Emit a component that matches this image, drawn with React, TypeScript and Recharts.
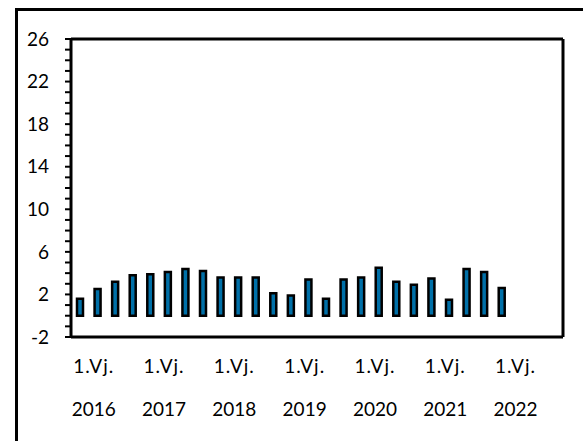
import React from "react";
import { BarChart, Bar, XAxis, YAxis, ReferenceLine } from "recharts";

// quarters 2016 Q1 .. 2022 Q4, only the first 25 have values
const years = [2016, 2017, 2018, 2019, 2020, 2021, 2022];
const quarters = years.flatMap((y) => [1, 2, 3, 4].map((q) => `${q}.Vj. ${y}`));

const values = [
  1.6, 2.5, 3.2, 3.8,
  3.9, 4.1, 4.4, 4.2,
  3.6, 3.6, 3.6, 2.1,
  1.9, 3.4, 1.6, 3.4,
  3.6, 4.5, 3.2, 2.9,
  3.5, 1.5, 4.4, 4.1,
  2.6, null, null, null,
];

const yTicks = [-2, -1, 0, 1, 2, 3, 4, 5, 6, 7, 8, 9, 10, 11, 12, 13, 14, 15, 16, 17, 18, 19, 20, 21, 22, 23, 24, 25, 26];
const yLabels = [-2, 2, 6, 10, 14, 18, 22, 26];

const data = quarters.map((q, i) => ({ name: q, value: values[i] }));

const FONT = "Lato, 'Open Sans', sans-serif";

const YTick = (props: any) => {
  const { x, y, payload } = props;
  if (!yLabels.includes(payload.value)) return <g />;
  return (
    <text x={x} y={y} dy="0.35em" textAnchor="end" fontSize={19} fontFamily={FONT} fill="#000">
      {payload.value}
    </text>
  );
};

const XTick = (props: any) => {
  const { x, y, payload } = props;
  const v: string = payload.value;
  if (!v.startsWith("1.Vj.")) return <g />;
  const [q, yr] = v.split(" ");
  return (
    <g>
      <text x={x + 14} y={y} dy={36} textAnchor="middle" fontSize={19} fontFamily={FONT} letterSpacing={1} fill="#000">
        {q}
      </text>
      <text x={x + 14} y={y} dy={79} textAnchor="middle" fontSize={19} fontFamily={FONT} fill="#000">
        {yr}
      </text>
    </g>
  );
};

export default function App() {
  return (
    <div style={{ position: "fixed", left: 0, top: 0, width: 583, height: 441, overflow: "hidden", background: "#fff" }}>
      <div
        style={{
          position: "absolute",
          left: 15,
          top: 8,
          width: 700,
          height: 700,
          border: "3px solid #000",
        }}
      />
      <div style={{ position: "absolute", left: 0, top: 0 }}>
        <BarChart
          width={583}
          height={441}
          data={data}
          margin={{ top: 39, right: 0, bottom: 0, left: 0 }}
          barSize={6}
        >
          <XAxis
            dataKey="name"
            interval={0}
            height={104}
            tickLine={false}
            tickSize={0}
            tickMargin={0}
            axisLine={{ stroke: "#000", strokeWidth: 3 }}
            tick={<XTick />}
          />
          <YAxis
            yAxisId="left"
            type="number"
            domain={[-2, 26]}
            ticks={yTicks}
            interval={0}
            width={71}
            tickSize={6}
            tickMargin={16}
            tickLine={{ stroke: "#000", strokeWidth: 2 }}
            axisLine={{ stroke: "#000", strokeWidth: 3 }}
            tick={<YTick />}
          />
          <YAxis
            yAxisId="right"
            orientation="right"
            type="number"
            domain={[-2, 26]}
            width={20}
            tick={false}
            tickLine={false}
            axisLine={{ stroke: "#000", strokeWidth: 3 }}
          />
          <ReferenceLine yAxisId="left" y={26} stroke="#000" strokeWidth={3} />
          <Bar
            yAxisId="left"
            dataKey="value"
            fill="#0070a8"
            stroke="#000"
            strokeWidth={2.5}
            isAnimationActive={false}
          />
        </BarChart>
      </div>
    </div>
  );
}
